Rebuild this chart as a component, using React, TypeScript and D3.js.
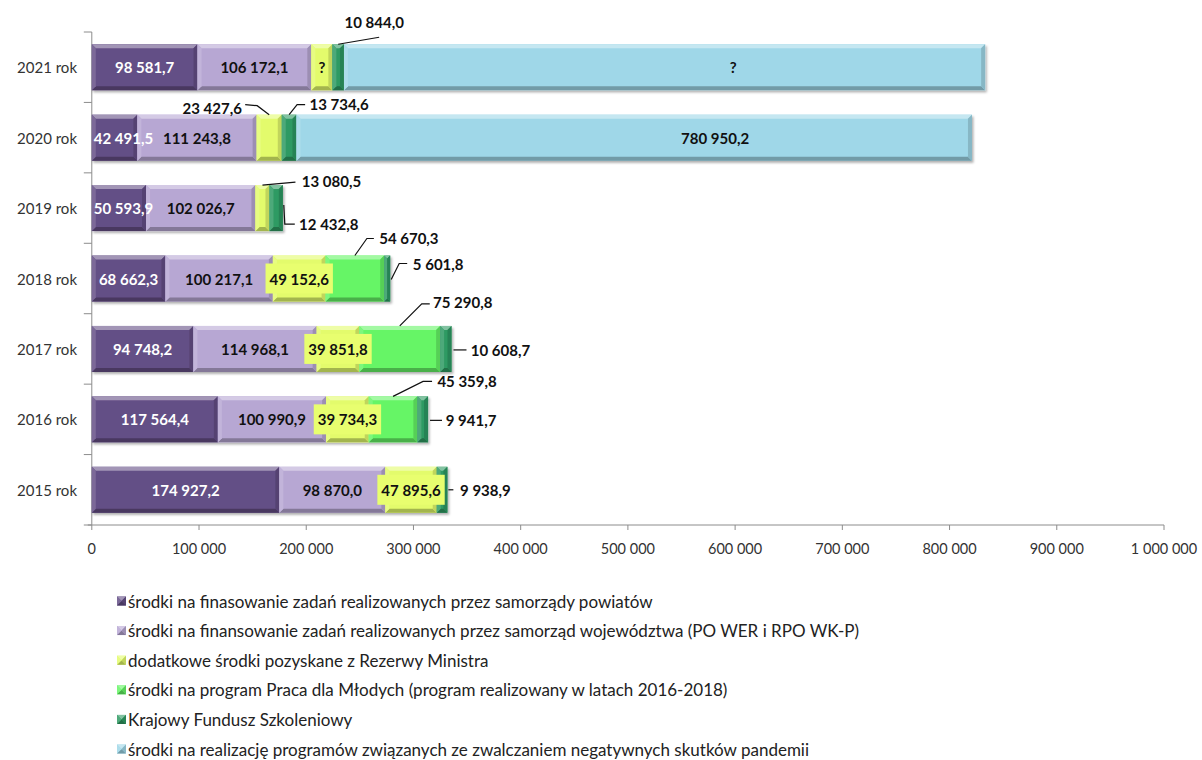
import React, { useMemo } from 'react';
import * as d3 from 'd3';

// ---------- DATA ----------
const years = ['2021 rok', '2020 rok', '2019 rok', '2018 rok', '2017 rok', '2016 rok', '2015 rok'];

const seriesNames = [
  'środki na finasowanie zadań realizowanych przez samorządy powiatów',
  'środki na finansowanie zadań realizowanych przez samorząd województwa (PO WER i RPO WK-P)',
  'dodatkowe środki pozyskane z Rezerwy Ministra',
  'środki na program Praca dla Młodych (program realizowany w latach 2016-2018)',
  'Krajowy Fundusz Szkoleniowy',
  'środki na realizację programów związanych ze zwalczaniem negatywnych skutków pandemii',
];

const powiaty = [98581.7, 42491.5, 50593.9, 68662.3, 94748.2, 117564.4, 174927.2];
const wojewodztwo = [106172.1, 111243.8, 102026.7, 100217.1, 114968.1, 100990.9, 98870.0];
const rezerwa = [19600, 23427.6, 13080.5, 49152.6, 39851.8, 39734.3, 47895.6]; // 2021 unknown ("?"), length as drawn
const mlodzi = [0, 0, 0, 54670.3, 75290.8, 45359.8, 0];
const kfs = [10844.0, 13734.6, 12432.8, 5601.8, 10608.7, 9941.7, 9938.9];
const pandemia = [598000, 630000, 0, 0, 0, 0, 0]; // bar lengths as drawn
const pandemiaLabelValue = [726000, 780950.2, 0, 0, 0, 0, 0]; // label centre as drawn

const unknownLabels = [
  [false, false, false, false, false, false, false],
  [false, false, false, false, false, false, false],
  [true, false, false, false, false, false, false],
  [false, false, false, false, false, false, false],
  [false, false, false, false, false, false, false],
  [true, false, false, false, false, false, false],
];

const xTicks = [0, 100000, 200000, 300000, 400000, 500000, 600000, 700000, 800000, 900000, 1000000];

const colors = ['#644f86', '#b7a7d3', '#e3fb6c', '#66f566', '#2f9a63', '#9fd7e8'];
const labelColors = ['#ffffff', '#111111', '#111111', '#111111', '#111111', '#111111'];

// label placement: 'in' centred, 'box' centred with fill, 'out' with leader line
type Out = { anchor: 'top' | 'right'; t: [number, number]; pts: [number, number][] };
const outLabels: Record<string, Out> = {
  '4-0': { anchor: 'top', t: [36, -22], pts: [[0, 0], [41, -7]] },
  '2-1': { anchor: 'top', t: [-57, -7], pts: [[-24, -10], [-12, -9], [0, 0]] },
  '4-1': { anchor: 'top', t: [50, -11], pts: [[0, 0], [8, -10], [16, -10]] },
  '2-2': { anchor: 'top', t: [69, -4], pts: [[0, 0], [33, -3]] },
  '4-2': { anchor: 'right', t: [46, 16], pts: [[1, -3], [2, 16], [12, 16]] },
  '3-3': { anchor: 'top', t: [54, -18], pts: [[0, 0], [12, -17], [19, -17]] },
  '4-3': { anchor: 'right', t: [48, -15], pts: [[1, 1], [9, -15], [17, -15]] },
  '3-4': { anchor: 'top', t: [63, -24], pts: [[0, 0], [22, -22], [30, -22]] },
  '4-4': { anchor: 'right', t: [49, 1], pts: [[2, 1], [15, 1]] },
  '3-5': { anchor: 'top', t: [74, -15], pts: [[0, 0], [30, -15], [39, -15]] },
  '4-5': { anchor: 'right', t: [43, 1], pts: [[2, 1], [14, 1]] },
  '4-6': { anchor: 'right', t: [38, 0], pts: [[1, 0], [6, 0]] },
};
const boxLabels = new Set(['2-3', '2-4', '2-5', '2-6']);

const plFormat = d3.formatLocale({ decimal: ',', thousands: ' ', grouping: [3], currency: ['', ''] });
const fmt1 = plFormat.format(',.1f');
const fmt0 = plFormat.format(',.0f');

const FONT = 'Lato, Carlito, "Open Sans", sans-serif';

let ctx: CanvasRenderingContext2D | null = null;
function measure(text: string, font: string) {
  if (!ctx) ctx = document.createElement('canvas').getContext('2d');
  if (!ctx) return text.length * 8;
  ctx.font = font;
  return ctx.measureText(text).width;
}

function Segment({ x0, x1, y0, y1, color }: { x0: number; x1: number; y0: number; y1: number; color: string }) {
  const w = x1 - x0;
  if (w <= 0) return null;
  const b = Math.min(4, w / 2, (y1 - y0) / 2);
  const light = d3.interpolateRgb(color, '#ffffff')(0.4);
  const lightS = d3.interpolateRgb(color, '#ffffff')(0.15);
  const dark = d3.interpolateRgb(color, '#000000')(0.28);
  const darkS = d3.interpolateRgb(color, '#000000')(0.15);
  const p = (a: [number, number][]) => a.map((q) => q.join(',')).join(' ');
  return (
    <g>
      <rect x={x0} y={y0} width={w} height={y1 - y0} fill={color} />
      <polygon points={p([[x0, y0], [x1, y0], [x1 - b, y0 + b], [x0 + b, y0 + b]])} fill={light} />
      <polygon points={p([[x0, y1], [x1, y1], [x1 - b, y1 - b], [x0 + b, y1 - b]])} fill={dark} />
      <polygon points={p([[x0, y0], [x0 + b, y0 + b], [x0 + b, y1 - b], [x0, y1]])} fill={lightS} />
      <polygon points={p([[x1, y0], [x1 - b, y0 + b], [x1 - b, y1 - b], [x1, y1]])} fill={darkS} />
    </g>
  );
}

export default function App() {
  const W = 1202;
  const H = 760;
  const series = [powiaty, wojewodztwo, rezerwa, mlodzi, kfs, pandemia];

  const x = d3.scaleLinear().domain([0, 1000000]).range([91.8, 1164]);
  const y = d3.scaleBand<string>().domain(years).range([32, 525]).paddingInner(0.347).paddingOuter(0.1735);

  const stacked = useMemo(() => {
    const rows = years.map((yr, i) => {
      const o: Record<string, number | string> = { year: yr };
      series.forEach((s, k) => (o['s' + k] = s[i]));
      return o;
    });
    return d3.stack<Record<string, number | string>>().keys(series.map((_, k) => 's' + k))(rows as any);
  }, []);

  const labelFont = `bold 15px ${FONT}`;
  const bars: React.ReactNode[] = [];
  const labels: React.ReactNode[] = [];

  stacked.forEach((layer, k) => {
    layer.forEach((d, i) => {
      const v = series[k][i];
      if (!v) return;
      const yr = years[i];
      const y0 = y(yr)!;
      const y1 = y0 + y.bandwidth();
      const cy = y0 + y.bandwidth() / 2;
      const xa = x(d[0]);
      const xb = x(d[1]);
      bars.push(<Segment key={`b${k}-${i}`} x0={xa} x1={xb} y0={y0} y1={y1} color={colors[k]} />);

      const key = `${k}-${i}`;
      const text = unknownLabels[k][i] ? '?' : fmt1(k === 5 ? pandemiaLabelValue[i] : v);
      const out = outLabels[key];
      if (out) {
        const ax = out.anchor === 'top' ? (xa + xb) / 2 : xb;
        const ay = out.anchor === 'top' ? y0 : cy;
        labels.push(
          <g key={`l${key}`}>
            <polyline
              points={out.pts.map(([dx, dy]) => `${ax + dx},${ay + dy}`).join(' ')}
              fill="none"
              stroke="#111"
              strokeWidth={1.2}
            />
            <text x={ax + out.t[0]} y={ay + out.t[1]} textAnchor="middle" dominantBaseline="central"
              style={{ font: labelFont }} fill="#111">{text}</text>
          </g>
        );
        return;
      }
      let cx = k === 5 ? x(d[0] + pandemiaLabelValue[i] / 2) : (xa + xb) / 2;
      const tw = measure(text, labelFont);
      if (cx - tw / 2 < x(0) + 2) cx = x(0) + 2 + tw / 2;
      if (boxLabels.has(key)) {
        labels.push(
          <rect key={`r${key}`} x={cx - tw / 2 - 4} y={cy - 15} width={tw + 8} height={30} fill="#e8fe6f" />
        );
      }
      labels.push(
        <text key={`t${key}`} x={cx} y={cy} textAnchor="middle" dominantBaseline="central"
          style={{ font: labelFont }} fill={labelColors[k]}>{text}</text>
      );
    });
  });

  const axisY = 525;
  return (
    <svg width={W} height={H} style={{ position: 'absolute', left: 0, top: 0, background: '#fff' }}>
      <defs>
        <filter id="shadow" x="-5%" y="-20%" width="110%" height="150%">
          <feDropShadow dx="1.5" dy="2" stdDeviation="1.2" floodColor="#000" floodOpacity="0.3" />
        </filter>
      </defs>
      {/* y axis */}
      <line x1={x(0)} x2={x(0)} y1={32} y2={axisY} stroke="#8c8c8c" strokeWidth={1} />
      {d3.range(years.length + 1).map((j) => {
        const yy = 32 + j * y.step();
        return <line key={`yt${j}`} x1={x(0) - 8} x2={x(0)} y1={yy} y2={yy} stroke="#8c8c8c" />;
      })}
      {years.map((yr) => (
        <text key={yr} x={77} y={y(yr)! + y.bandwidth() / 2} textAnchor="end" dominantBaseline="central"
          style={{ font: `15px ${FONT}` }} fill="#333">{yr}</text>
      ))}
      {/* x axis */}
      <line x1={x(0) - 4} x2={x(1000000)} y1={axisY} y2={axisY} stroke="#8c8c8c" />
      {xTicks.map((t) => (
        <g key={t}>
          <line x1={x(t)} x2={x(t)} y1={axisY} y2={axisY + 5} stroke="#8c8c8c" />
          <text x={x(t)} y={axisY + 23} textAnchor="middle" dominantBaseline="central"
            style={{ font: `14.5px ${FONT}` }} fill="#333">{fmt0(t)}</text>
        </g>
      ))}
      <g filter="url(#shadow)">{bars}</g>
      <g>{labels}</g>
      {/* legend */}
      {seriesNames.map((name, k) => {
        const ly = 601 + k * 29.6;
        return (
          <g key={name}>
            <Segment x0={117} x1={126} y0={ly - 4.5} y1={ly + 4.5} color={colors[k]} />
            <text x={128} y={ly} dominantBaseline="central" style={{ font: `17px ${FONT}` }} fill="#222">{name}</text>
          </g>
        );
      })}
    </svg>
  );
}
